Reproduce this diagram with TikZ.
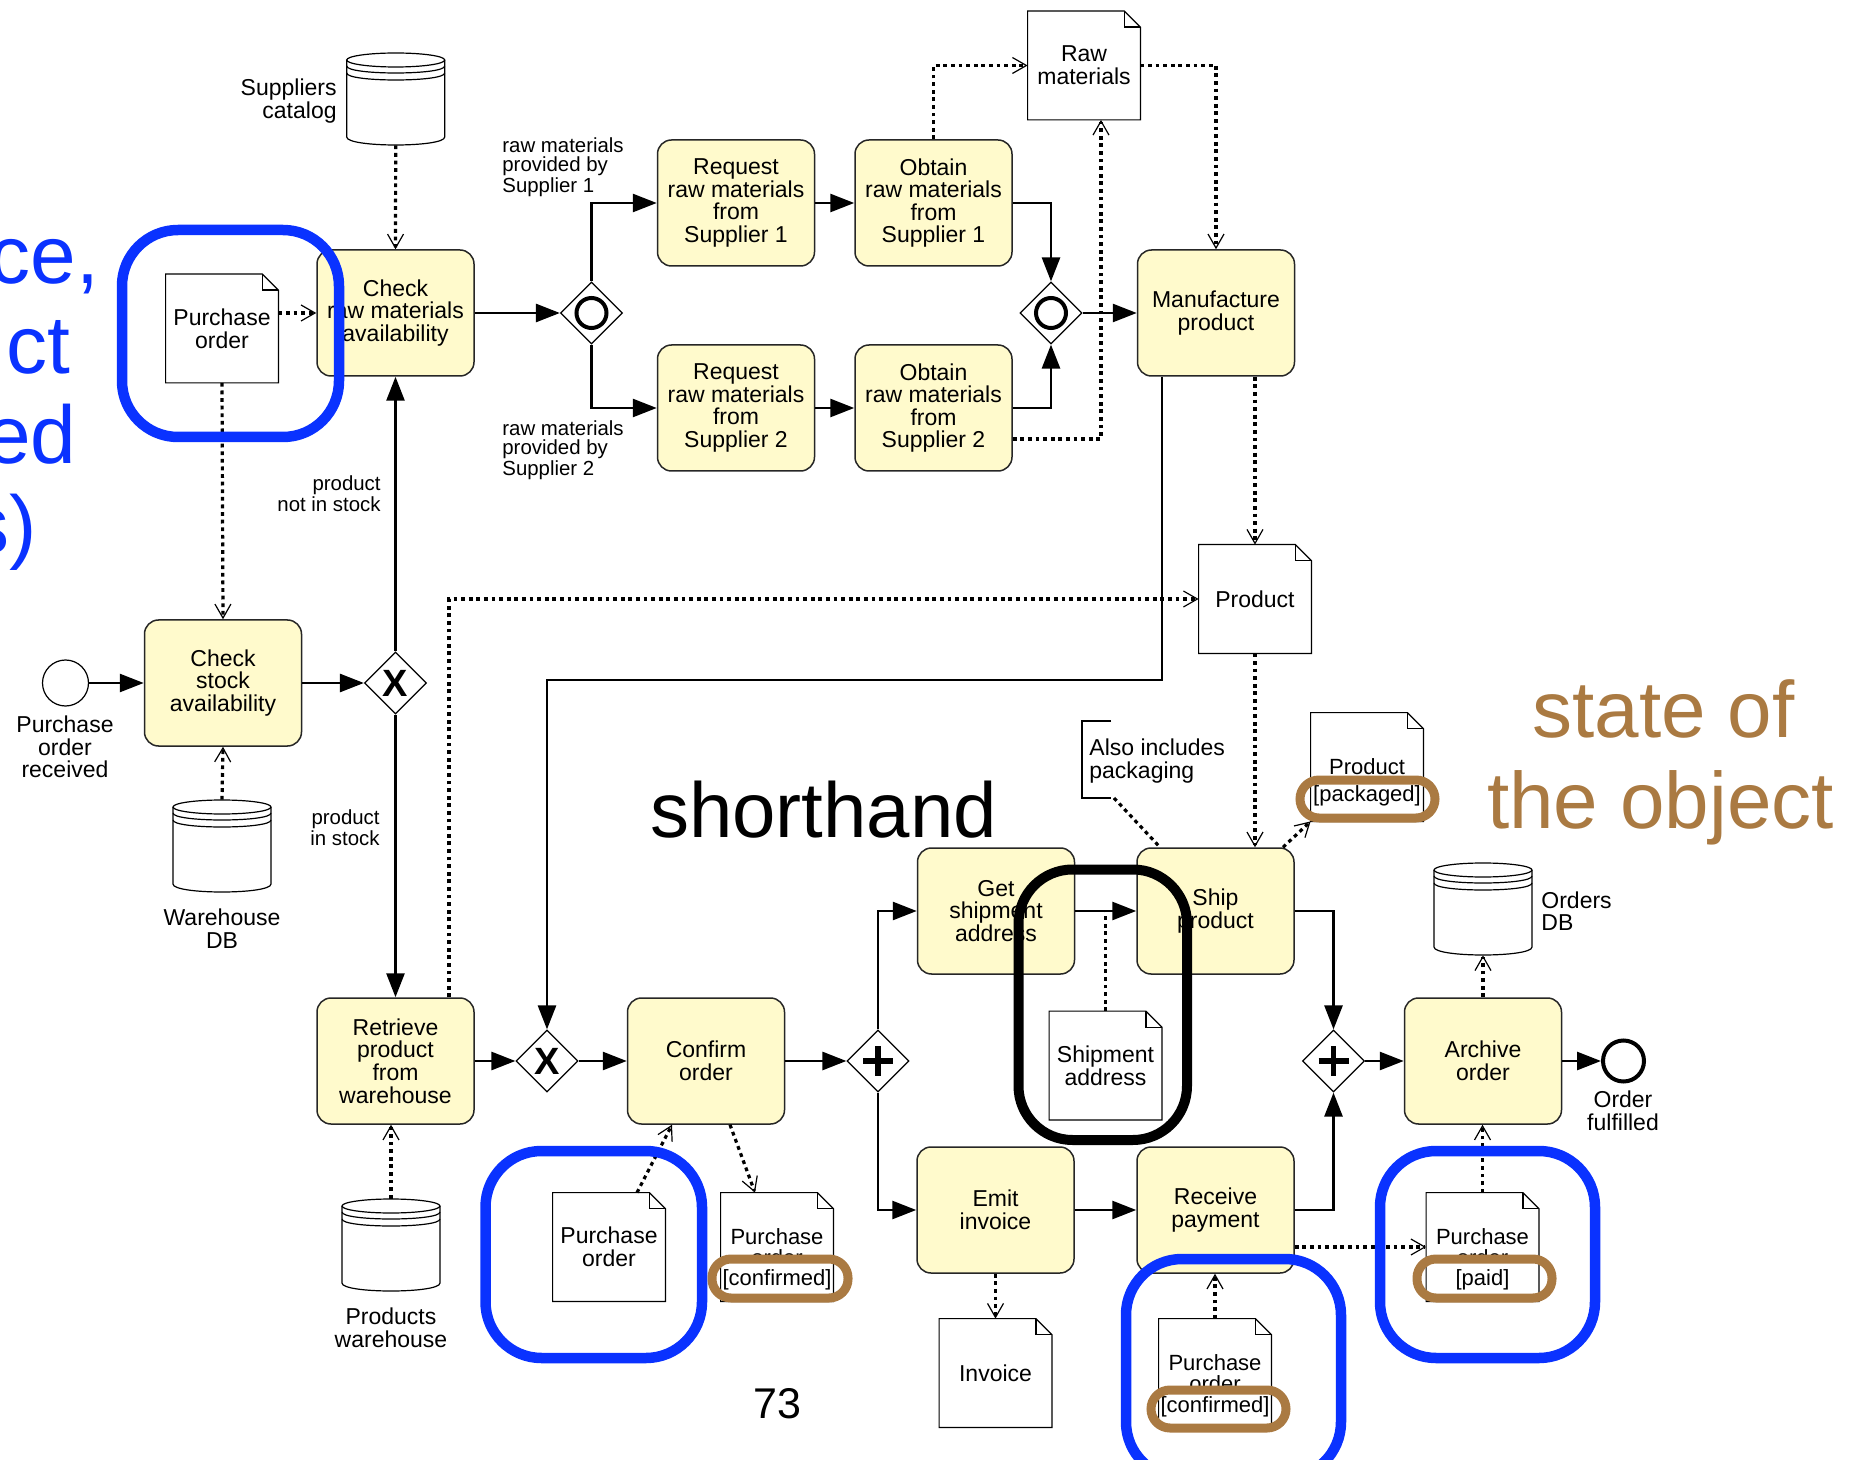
\documentclass[tikz,border=0pt]{standalone}
\usepackage{fontspec}
\setmainfont{Liberation Sans}
\usetikzlibrary{arrows.meta,shapes.geometric}
\definecolor{taskfill}{RGB}{255,250,204}
\definecolor{ringblue}{RGB}{10,50,255}
\definecolor{ringbrown}{RGB}{170,122,66}
\newcommand\mainsize{\fontsize{11.5}{11.3}\selectfont}
\newcommand\statesize{\fontsize{11}{11}\selectfont}
\newcommand\smallsize{\fontsize{10.2}{9.4}\selectfont}
\tikzset{
 task/.style={rectangle, rounded corners=7pt, draw=black!85, line width=0.75pt, fill=taskfill,
   minimum width=78.5pt, minimum height=63pt, inner sep=1pt, align=center, font=\mainsize},
 gw/.style={diamond, aspect=1, draw=black, line width=0.6pt, fill=white,
   minimum width=31pt, minimum height=31pt, inner sep=0pt},
 startev/.style={circle, draw, line width=0.6pt, minimum size=23pt, inner sep=0pt, fill=white},
 endev/.style={circle, draw, line width=2pt, minimum size=20.5pt, inner sep=0pt, fill=white},
 docnode/.style={rectangle, minimum width=56pt, minimum height=54pt, inner sep=0pt, align=center, font=\mainsize},
 docline/.style={draw=black, line width=0.6pt},
 storenode/.style={rectangle, minimum width=49pt, minimum height=46pt, inner sep=0pt},
 seq/.style={line width=1.35pt, -{Triangle[length=12pt,width=9pt]}},
 dotline/.style={line width=1.6pt, dash pattern=on 1.9pt off 1.9pt},
 assoc/.style={dotline, -{Straight Barb[length=7pt,width=8pt,line width=0.6pt]}},
 lbl/.style={inner sep=0pt, font=\mainsize, align=center},
 stlbl/.style={inner sep=0pt, font=\statesize},
 slbl/.style={inner sep=0pt, font=\smallsize},
 xmark/.style={inner sep=0pt, font=\fontsize{19}{19}\selectfont\bfseries},
 bluering/.style={draw=ringblue, line width=5.25pt, rounded corners=28pt},
 blackring/.style={draw=black, line width=5pt, rounded corners=27pt},
 brownring/.style={draw=ringbrown, line width=4.5pt, rounded corners=9.5pt},
 bigblue/.style={inner sep=0pt, anchor=base east, text=ringblue, font=\fontsize{41}{41}\selectfont},
}
\newcommand\DocObj[4]{%
  \node[docnode] (#1) at (#2,#3) {#4};
  \draw[docline] (#1.north west) -- ([xshift=-8pt]#1.north east) -- ([yshift=-8pt]#1.north east)
     -- (#1.south east) -- (#1.south west) -- cycle;
  \draw[docline] ([xshift=-8pt]#1.north east) |- ([yshift=-8pt]#1.north east);
}
\newcommand\DStore[3]{%
  \node[storenode] (#1) at (#2,#3+46) {};
  \draw[docline] (#2-49,#3+7) -- (#2-49,#3+84) .. controls (#2-49,#3+94.67) and (#2+49,#3+94.67) .. (#2+49,#3+84) -- (#2+49,#3+7);
  \draw[docline] (#2,#3+7) ellipse [x radius=49, y radius=7];
  \draw[docline] (#2-49,#3+13) .. controls (#2-49,#3+22.33) and (#2+49,#3+22.33) .. (#2+49,#3+13);
  \draw[docline] (#2-49,#3+20) .. controls (#2-49,#3+29.33) and (#2+49,#3+29.33) .. (#2+49,#3+20);
}
\begin{document}
\begin{tikzpicture}[x=0.5pt,y=-0.5pt]
\useasboundingbox (0,0) rectangle (1854,1460);
\clip (0,0) rectangle (1854,1460);

% ---------- tasks ----------
\node[task] (chkraw) at (395.5,313) {Check\\raw materials\\availability};
\node[task] (req1) at (736,203) {Request\\raw materials\\from\\Supplier 1};
\node[task] (ob1) at (933.5,203) {Obtain\\raw materials\\from\\Supplier 1};
\node[task] (req2) at (736,408) {Request\\raw materials\\from\\Supplier 2};
\node[task] (ob2) at (933.5,408) {Obtain\\raw materials\\from\\Supplier 2};
\node[task] (manu) at (1216,313) {Manufacture\\product};
\node[task] (cs) at (223,683) {Check\\stock\\availability};
\node[task] (retr) at (395.5,1061) {Retrieve\\product\\from\\warehouse};
\node[task] (conf) at (706,1061) {Confirm\\order};
\node[task] (gsa) at (996,911) {Get\\shipment\\address};
\node[task] (ship) at (1215.5,911) {Ship\\product};
\node[task] (emit) at (995.5,1210) {Emit\\invoice};
\node[task] (recv) at (1215.5,1210) {Receive\\payment};
\node[task] (arch) at (1483,1061) {Archive\\order};

% ---------- gateways ----------
\node[gw] (g1) at (591.5,313) {};
\draw[line width=2pt] (g1.center) circle[radius=7.5pt];
\node[gw] (g2) at (1051,313) {};
\draw[line width=2pt] (g2.center) circle[radius=7.5pt];
\node[gw] (xg) at (395.5,683) {};
\node[xmark] (xg-x) at (xg.center) {X};
\node[gw] (xm) at (547,1061) {};
\node[xmark] (xm-x) at (xm.center) {X};
\node[gw] (ps) at (878,1061) {};
\draw[line width=2.6pt] ([yshift=7.5pt]ps.center) -- ([yshift=-7.5pt]ps.center)
  ([xshift=-7.5pt]ps.center) -- ([xshift=7.5pt]ps.center);
\node[gw] (pj) at (1333.5,1061) {};
\draw[line width=2.6pt] ([yshift=7.5pt]pj.center) -- ([yshift=-7.5pt]pj.center)
  ([xshift=-7.5pt]pj.center) -- ([xshift=7.5pt]pj.center);

% ---------- events ----------
\node[startev] (start) at (65.5,683) {};
\node[lbl] (start-l) at (65,747) {Purchase\\order\\received};
\node[endev] (endev) at (1623.5,1061) {};
\node[lbl] (end-l) at (1623,1111) {Order\\fulfilled};

% ---------- data stores ----------
\DStore{cat}{395.7}{53}
\node[lbl, anchor=east, align=right] (cat-l) at (337,101) {Suppliers\\catalog};
\DStore{wdb}{222}{800}
\node[lbl] (wdb-l) at (222,928.5) {Warehouse\\DB};
\DStore{pwh}{391}{1199}
\node[lbl] (pwh-l) at (391,1328) {Products\\warehouse};
\DStore{odb}{1483}{863}
\node[lbl, anchor=west, align=left] (odb-l) at (1541,911) {Orders\\DB};

% ---------- data objects ----------
\DocObj{po1}{222}{328.5}{Purchase\\order}
\DocObj{raw}{1084}{65.5}{Raw\\materials}
\DocObj{prod}{1255}{599}{Product}
\DocObj{shipaddr}{1105.5}{1065.5}{Shipment\\address}
\DocObj{po2}{609}{1247}{Purchase\\order}
\DocObj{inv}{995.5}{1373}{Invoice}

\DocObj{pack}{1367}{767}{}
\node[stlbl] (pack-a) at (1367,767) {Product};
\fill[white] (1312.5,783) rectangle (1421.5,816);
\node[stlbl] (pack-s) at (1367,796) {[packaged]};

\DocObj{poc1}{777}{1247}{}
\node[stlbl] (poc1-a) at (777,1237) {Purchase};
\node[stlbl] (poc1-b) at (777,1258) {order};
\fill[white] (722.5,1262) rectangle (831.5,1296);
\node[stlbl] (poc1-s) at (777,1280) {[confirmed]};

\DocObj{poc2}{1215}{1373}{}
\node[stlbl] (poc2-a) at (1215,1363) {Purchase};
\node[stlbl] (poc2-b) at (1215,1384) {order};
\fill[white] (1160.5,1393) rectangle (1269.5,1426);
\node[stlbl] (poc2-s) at (1215,1407) {[confirmed]};

\DocObj{paid}{1482.5}{1247}{}
\node[stlbl] (paid-a) at (1482.5,1237) {Purchase};
\node[stlbl] (paid-b) at (1482.5,1258) {order};
\fill[white] (1428,1262) rectangle (1537,1296);
\node[stlbl] (paid-s) at (1482.5,1280) {[paid]};

% ---------- annotation ----------
\draw[docline] (1111,721) -- (1082,721) -- (1082,798) -- (1111,798);
\coordinate (abr) at (1114,798);
\node[lbl, anchor=west, align=left] (annot) at (1089,761) {Also includes\\packaging};

% ---------- sequence flows ----------
\draw[seq] (start.east) -- (cs.west);
\draw[seq] (cs.east) -- (xg.west);
\draw[seq] (xg.north) -- (chkraw.south);
\draw[seq] (xg.south) -- (retr.north);
\draw[seq] (chkraw.east) -- (g1.west);
\draw[seq] (g1.north) |- (req1.west);
\draw[seq] (g1.south) |- (req2.west);
\draw[seq] (req1.east) -- (ob1.west);
\draw[seq] (req2.east) -- (ob2.west);
\draw[seq] (ob1.east) -| (g2.north);
\draw[seq] (ob2.east) -| (g2.south);
\draw[seq] (g2.east) -- (manu.west);
\coordinate (mbend) at (1162,680);
\draw[seq] (manu.south -| mbend) -- (mbend) -| (xm.north);
\draw[seq] (retr.east) -- (xm.west);
\draw[seq] (xm.east) -- (conf.west);
\draw[seq] (conf.east) -- (ps.west);
\draw[seq] (ps.north) |- (gsa.west);
\draw[seq] (ps.south) |- (emit.west);
\draw[seq] (gsa.east) -- (ship.west);
\draw[seq] (emit.east) -- (recv.west);
\draw[seq] (ship.east) -| (pj.north);
\draw[seq] (recv.east) -| (pj.south);
\draw[seq] (pj.east) -- (arch.west);
\draw[seq] (arch.east) -- (endev.west);

% ---------- flow labels ----------
\node[slbl, anchor=west, align=left] (lab-s1) at (502,167) {raw materials\\provided by\\Supplier 1};
\node[slbl, anchor=west, align=left] (lab-s2) at (502,450) {raw materials\\provided by\\Supplier 2};
\node[slbl, anchor=east, align=right] (lab-nis) at (381,493.5) {product\\not in stock};
\node[slbl, anchor=east, align=right] (lab-is) at (380,828) {product\\in stock};

% ---------- data associations ----------
\draw[assoc] (cat.south) -- (chkraw.north);
\draw[assoc] ([yshift=7.75pt]po1.east) -- (chkraw.west);
\draw[assoc] (po1.south) -- (cs.north);
\draw[assoc] (wdb.north) -- (cs.south);
\draw[assoc] (ob1.north) |- (raw.west);
\draw[assoc] ([yshift=-15.5pt]ob2.east) -| ([xshift=8.5pt]raw.south);
\draw[assoc] (raw.east) -| (manu.north);
\draw[assoc] ([xshift=19.5pt]manu.south) -- (prod.north);
\draw[assoc] (prod.south) -- (prod.south |- ship.north);
\draw[assoc] ([xshift=26.75pt]retr.north) |- (prod.west);
\draw[assoc] ([xshift=33.75pt]ship.north) -- (pack.south west);
\draw[dotline] (abr) -- ([xshift=-27.75pt]ship.north);
\draw[dotline] (shipaddr.north) -- (shipaddr.north |- ship.west);
\draw[assoc] ([xshift=12pt]conf.south) -- ([xshift=-11pt]poc1.north);
\draw[assoc] ([xshift=14pt]po2.north) -- ([xshift=-17pt]conf.south);
\draw[assoc] (pwh.north) -- (pwh.north |- retr.south);
\draw[assoc] (emit.south) -- (inv.north);
\draw[assoc] (poc2.north) -- (poc2.north |- recv.south);
\draw[assoc] ([yshift=-18.5pt]recv.east) -- (paid.west);
\draw[assoc] (paid.north) -- (paid.north |- arch.south);
\draw[assoc] (arch.north) -- (odb.south);

% ---------- big texts ----------
\node[inner sep=0pt, anchor=base, font=\fontsize{39}{39}\selectfont] (shorthand) at (823.5,837) {shorthand};
\node[inner sep=0pt, anchor=base, text=ringbrown, font=\fontsize{40}{40}\selectfont] (state1) at (1663.5,737) {state of};
\node[inner sep=0pt, anchor=base, text=ringbrown, font=\fontsize{40}{40}\selectfont] (state2) at (1660.5,828) {the object};
\node[inner sep=0pt, anchor=base, font=\fontsize{21.5}{21.5}\selectfont] (pagenum) at (777,1418) {73};
\node[bigblue] (bl1) at (99.5,284) {ce,};
\node[bigblue] (bl2) at (71,374) {ct};
\node[bigblue] (bl3) at (77,464) {ed};
\node[bigblue] (bl4) at (37,554) {s)};

% ---------- highlight rings ----------
\draw[bluering] (122,230) rectangle (339,437);
\draw[bluering] (485.5,1151) rectangle (702,1358);
\draw[bluering] (1126,1259) rectangle (1341,1478);
\draw[bluering] (1380,1151) rectangle (1595,1358);
\draw[blackring] (1018.5,869.5) rectangle (1187,1140);
\draw[brownring] (1300,780) rectangle (1435,818);
\draw[brownring] (712,1259) rectangle (848,1298);
\draw[brownring] (1151,1390) rectangle (1286,1428);
\draw[brownring] (1417,1259) rectangle (1552,1298);
\end{tikzpicture}
\end{document}
